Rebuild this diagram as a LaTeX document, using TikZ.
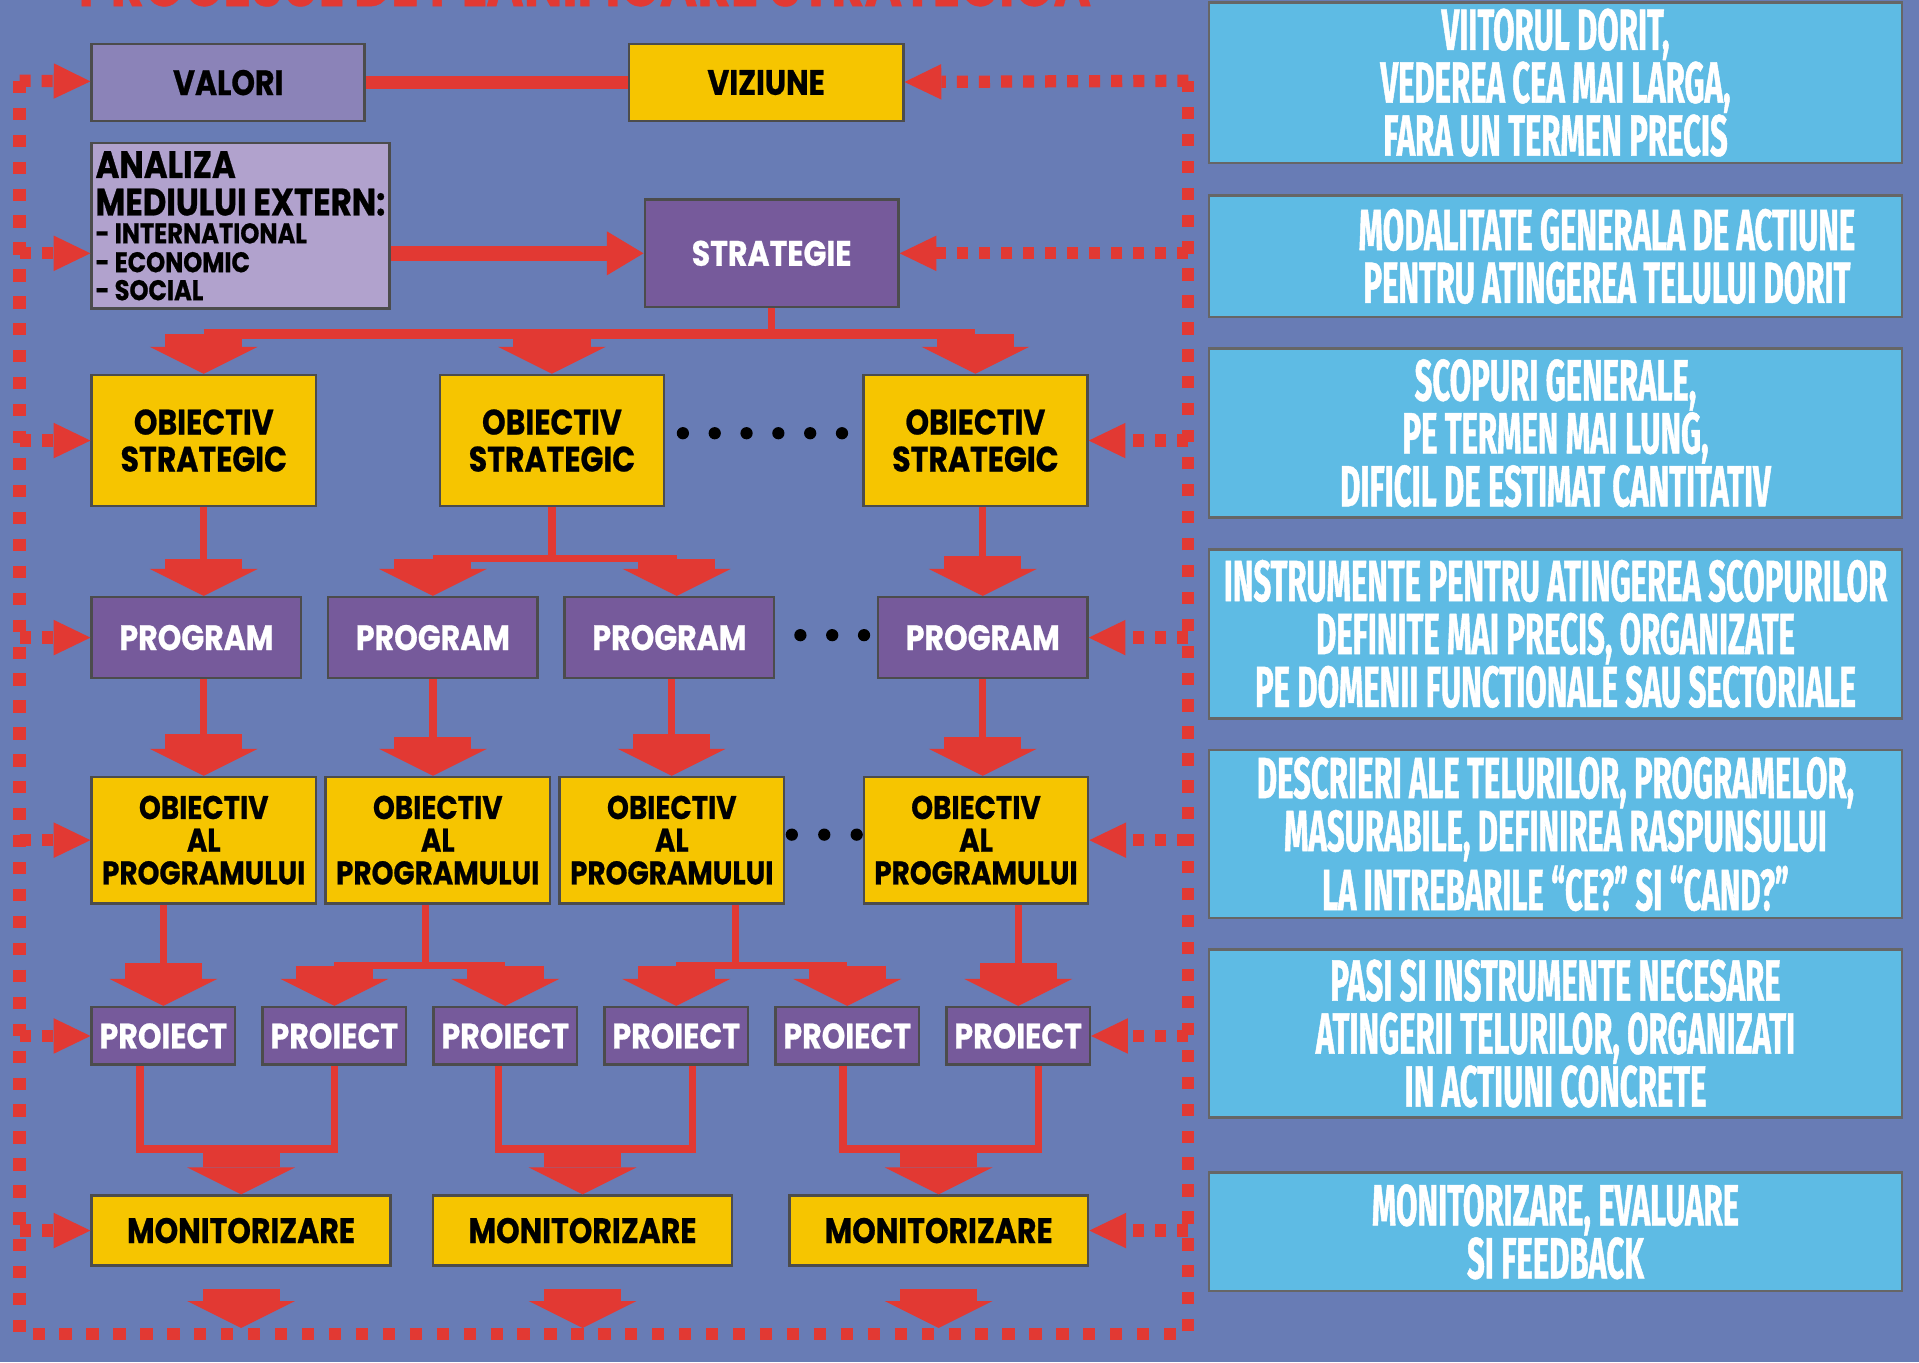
\documentclass[tikz,border=0pt]{standalone}
\usepackage{fontspec}
\setmainfont{Poppins}
\newfontfamily\boxfont{Poppins}[FakeStretch=0.85, FakeBold=0.7]
\newfontfamily\notefont{Fira Sans}[FakeStretch=0.535, FakeBold=0.8]
\usetikzlibrary{positioning,calc,arrows.meta}

\definecolor{panelblue}{RGB}{104,124,181}
\definecolor{flowred}{RGB}{226,57,51}
\definecolor{goldfill}{RGB}{246,197,0}
\definecolor{purplefill}{RGB}{118,90,155}
\definecolor{slatefill}{RGB}{139,131,184}
\definecolor{lilacfill}{RGB}{177,162,205}
\definecolor{skyfill}{RGB}{94,187,228}

\begin{document}
\begin{tikzpicture}[
    x=0.01cm, y=-0.01cm,
    box/.style={rectangle, draw=black!70, line width=0.6pt, inner sep=0pt, align=center,
                font=\boxfont\bfseries\fontsize{8.2}{8.6}\selectfont},
    goal/.style={box, fill=goldfill},
    plan/.style={box, fill=purplefill, text=white},
    strat/.style={goal, minimum width=1.83cm, minimum height=1.07cm},
    prog/.style={plan, minimum width=1.71cm, minimum height=0.66cm},
    progoal/.style={goal, minimum width=1.83cm, minimum height=1.03cm,
                    font=\boxfont\bfseries\fontsize{7.6}{7.6}\selectfont},
    proj/.style={plan, minimum width=1.17cm, minimum height=0.47cm},
    monit/.style={goal, minimum width=2.44cm, minimum height=0.57cm},
    note/.style={rectangle, draw=black!60, line width=0.6pt, fill=skyfill, text=white, align=center,
                 minimum width=5.66cm, inner sep=0pt,
                 font=\notefont\bfseries\fontsize{13.5}{12.3}\selectfont},
    link/.style={draw=flowred, line width=0.06cm},
    fat/.style={draw=flowred, line width=0.63cm,
                -{Triangle[length=0.22cm, width=0.88cm, line width=0pt]}},
    feed/.style={draw=flowred, line width=0.1cm, dash pattern=on 0.09cm off 0.09cm,
                 -{Triangle[length=0.3cm, width=0.29cm, line width=0pt]}},
    frameline/.style={draw=flowred, line width=0.1cm, dash pattern=on 0.1cm off 0.12cm}
]

% Background
\fill[panelblue] (0,0) rectangle (1568,1113);
\useasboundingbox (0,0) rectangle (1568,1113);

% Title (cut off at the top)
\node[font=\boxfont\bfseries\fontsize{14}{14}\selectfont, text=flowred, anchor=base, inner sep=0pt]
    (title) at (478,5) {PROCESUL DE PLANIFICARE STRATEGICA};

% Top level
\node[box, fill=slatefill, minimum width=2.23cm, minimum height=0.63cm] (valori) at (186.5,67.5) {VALORI};
\node[goal, minimum width=2.24cm, minimum height=0.63cm] (viziune) at (626,67.5) {VIZIUNE};
\node[box, fill=lilacfill, minimum width=2.43cm, minimum height=1.35cm, align=left,
      font=\boxfont\bfseries\fontsize{8.85}{8.7}\selectfont]
    (analiza) at (196.5,184.5) {%
    ANALIZA\\MEDIULUI EXTERN:\\[-2.2pt]
    {\fontsize{6.6}{6.6}\selectfont - INTERNATIONAL}\\[-2pt]
    {\fontsize{6.6}{6.6}\selectfont - ECONOMIC}\\[-2.2pt]
    {\fontsize{6.6}{6.6}\selectfont - SOCIAL}};
\node[plan, minimum width=2.07cm, minimum height=0.88cm] (strategie) at (630.5,207) {STRATEGIE};

% Strategic objectives
\node[strat] (os1) at (166.5,360) {OBIECTIV\\STRATEGIC};
\node[strat] (os2) at (451,360) {OBIECTIV\\STRATEGIC};
\node[strat] (os3) at (797,360) {OBIECTIV\\STRATEGIC};

% Programs
\node[prog] (p1) at (160.5,521) {PROGRAM};
\node[prog, right=0.2cm of p1] (p2) {PROGRAM};
\node[prog, right=0.2cm of p2] (p3) {PROGRAM};
\node[prog] (p4) at (803,521) {PROGRAM};

% Program objectives
\node[progoal] (op1) at (166.5,686.5) {OBIECTIV\\AL\\PROGRAMULUI};
\node[progoal, right=0.06cm of op1] (op2) {OBIECTIV\\AL\\PROGRAMULUI};
\node[progoal, right=0.06cm of op2] (op3) {OBIECTIV\\AL\\PROGRAMULUI};
\node[progoal] (op4) at (797.5,686.5) {OBIECTIV\\AL\\PROGRAMULUI};

% Projects
\node[proj] (pr1) at (133.5,846.5) {PROIECT};
\node[proj, right=0.205cm of pr1] (pr2) {PROIECT};
\node[proj, right=0.205cm of pr2] (pr3) {PROIECT};
\node[proj, right=0.205cm of pr3] (pr4) {PROIECT};
\node[proj, right=0.205cm of pr4] (pr5) {PROIECT};
\node[proj, right=0.205cm of pr5] (pr6) {PROIECT};

% Monitoring
\node[monit] (m1) at (197,1005.5) {MONITORIZARE};
\node[monit] (m2) at (476,1005.5) {MONITORIZARE};
\node[monit] (m3) at (767,1005.5) {MONITORIZARE};

% Notes on the right
\node[note, minimum height=1.31cm] (n1) at (1271,67.5) {VIITORUL DORIT,\\VEDEREA CEA MAI LARGA,\\FARA UN TERMEN PRECIS};
\node[note, minimum height=0.99cm] (n2) at (1271,209.5) {\hspace*{0.84cm}MODALITATE GENERALA DE ACTIUNE\\\hspace*{0.84cm}PENTRU ATINGEREA TELULUI DORIT};
\node[note, minimum height=1.38cm] (n3) at (1271,354) {SCOPURI GENERALE,\\PE TERMEN MAI LUNG,\\DIFICIL DE ESTIMAT CANTITATIV};
\node[note, minimum height=1.38cm] (n4) at (1271,518) {INSTRUMENTE PENTRU ATINGEREA SCOPURILOR\\DEFINITE MAI PRECIS, ORGANIZATE\\PE DOMENII FUNCTIONALE SAU SECTORIALE};
\node[note, minimum height=1.37cm] (n5) at (1271,681.5) {DESCRIERI ALE TELURILOR, PROGRAMELOR,\\MASURABILE, DEFINIREA RASPUNSULUI\\LA INTREBARILE “CE?” SI “CAND?”};
\node[note, minimum height=1.37cm] (n6) at (1271,844.5) {PASI SI INSTRUMENTE NECESARE\\ATINGERII TELURILOR, ORGANIZATI\\IN ACTIUNI CONCRETE};
\node[note, minimum height=0.97cm] (n7) at (1271,1006.5) {MONITORIZARE, EVALUARE\\SI FEEDBACK};

% Top bars
\draw[flowred, line width=0.11cm] (valori) -- (viziune);
\draw[flowred, line width=0.12cm, -{Triangle[length=0.3cm, width=0.36cm, line width=0pt]}]
    (analiza.east |- strategie) -- (strategie);

% Strategy to strategic objectives
\coordinate (sj) at ($(strategie.south)+(0,21)$);
\draw[link] (strategie) -- (sj);
\draw[link, line width=0.08cm] (os1 |- sj) -- (os3 |- sj);
\draw[fat] (os1 |- sj) -- (os1);
\draw[fat] (os2 |- sj) -- (os2);
\draw[fat] (os3 |- sj) -- (os3);

% Strategic objectives to programs
\coordinate (j1) at ($(os1.south)+(0,42)$);
\draw[link] (os1) -- (j1);
\draw[fat] (j1) -- (j1 |- p1.north);
\coordinate (j2) at ($(os2.south)+(0,42)$);
\draw[link] (os2) -- (j2);
\draw[link] (p2.north |- j2) -- ([xshift=0.06cm]p3.north |- j2);
\draw[fat] (p2.north |- j2) -- (p2);
\draw[fat] ([xshift=0.06cm]p3.north |- j2) -- ([xshift=0.06cm]p3.north);
\coordinate (j3) at ($(p4.north)+(0,-33)$);
\draw[link] (os3.south -| j3) -- (j3);
\draw[fat] (j3) -- (p4);

% Programs to program objectives
\coordinate (k1) at ($(op1.north)+(0,-34)$);
\draw[link] (p1.south -| k1) -- (k1);
\draw[fat] (k1) -- (op1);
\coordinate (k2) at ($(p2.south)+(0,47)$);
\draw[link] (p2) -- (k2);
\draw[fat] (k2) -- (k2 |- op2.north);
\coordinate (k3) at ($(op3.north)+(0,-34)$);
\draw[link] (p3.south -| k3) -- (k3);
\draw[fat] (k3) -- (op3);
\coordinate (k4) at ($(p4.south)+(0,47)$);
\draw[link] (p4) -- (k4);
\draw[fat] (k4) -- (k4 |- op4.north);

% Program objectives to projects
\coordinate (q1) at ($(pr1.north)+(0,-35)$);
\draw[link] (op1.south -| q1) -- (q1);
\draw[fat] (q1) -- (pr1);
\coordinate (q2) at ($(op2.south)+(-10,50)$);
\draw[link] (op2.south -| q2) -- (q2);
\draw[link] (pr2 |- q2) -- (pr3 |- q2);
\draw[fat] (pr2 |- q2) -- (pr2);
\draw[fat] (pr3 |- q2) -- (pr3);
\coordinate (q3) at ($(op3.south)+(52,50)$);
\draw[link] (op3.south -| q3) -- (q3);
\draw[link] (pr4 |- q3) -- (pr5 |- q3);
\draw[fat] (pr4 |- q3) -- (pr4);
\draw[fat] (pr5 |- q3) -- (pr5);
\coordinate (q4) at ($(pr6.north)+(0,-35)$);
\draw[link] (op4.south -| q4) -- (q4);
\draw[fat] (q4) -- (pr6);

% Projects to monitoring
\coordinate (u1) at ($(m1.north)+(0,-37)$);
\draw[link] ([xshift=-0.19cm]pr1.south) |- (u1) -| (pr2.south);
\draw[fat] (u1) -- (m1);
\coordinate (u2) at ($(m2.north)+(0,-37)$);
\draw[link] ([xshift=-0.055cm]pr3.south) |- (u2) -| ([xshift=0.135cm]pr4.south);
\draw[fat] (u2) -- (m2);
\coordinate (u3) at ($(m3.north)+(0,-37)$);
\draw[link] ([xshift=-0.035cm]pr5.south) |- (u3) -| ([xshift=0.165cm]pr6.south);
\draw[fat] (u3) -- (m3);

% Monitoring down to the feedback frame
\draw[fat] ([yshift=-0.18cm]m1.south) -- ([yshift=-0.5cm]m1.south);
\draw[fat] ([yshift=-0.18cm]m2.south) -- ([yshift=-0.5cm]m2.south);
\draw[fat] ([yshift=-0.18cm]m3.south) -- ([yshift=-0.5cm]m3.south);

% Feedback frame
\coordinate (tl) at (16,66);
\coordinate (tr) at (971,66);
\coordinate (bl) at (16,1090);
\coordinate (br) at (971,1090);
\draw[frameline] (tl) -- (bl) -- (br) -- (tr);

% Feedback arrows
\draw[feed] (tl) -- (valori);
\draw[feed] (tl |- strategie) -- (analiza.west |- strategie);
\draw[feed] (tl |- os1) -- (os1);
\draw[feed] (tl |- p1) -- (p1);
\draw[feed] (tl |- op1) -- (op1);
\draw[feed] (tl |- pr1) -- (pr1);
\draw[feed] (tl |- m1) -- (m1);
\draw[feed] (tr) -- (viziune);
\draw[feed] (tr |- strategie) -- (strategie);
\draw[feed] (tr |- os3) -- (os3);
\draw[feed] (tr |- p4) -- (p4);
\draw[feed] (tr |- op4) -- (op4);
\draw[feed] (tr |- pr6) -- (pr6);
\draw[feed] (tr |- m3) -- (m3);

% Dots between boxes
\foreach \d in {0,...,5} \fill ({558+26*\d},354) circle (0.05cm);
\foreach \d in {0,1,2} \fill ({654+26*\d},519) circle (0.05cm);
\foreach \d in {0,1,2} \fill ({647+26.5*\d},682) circle (0.05cm);

\end{tikzpicture}
\end{document}
